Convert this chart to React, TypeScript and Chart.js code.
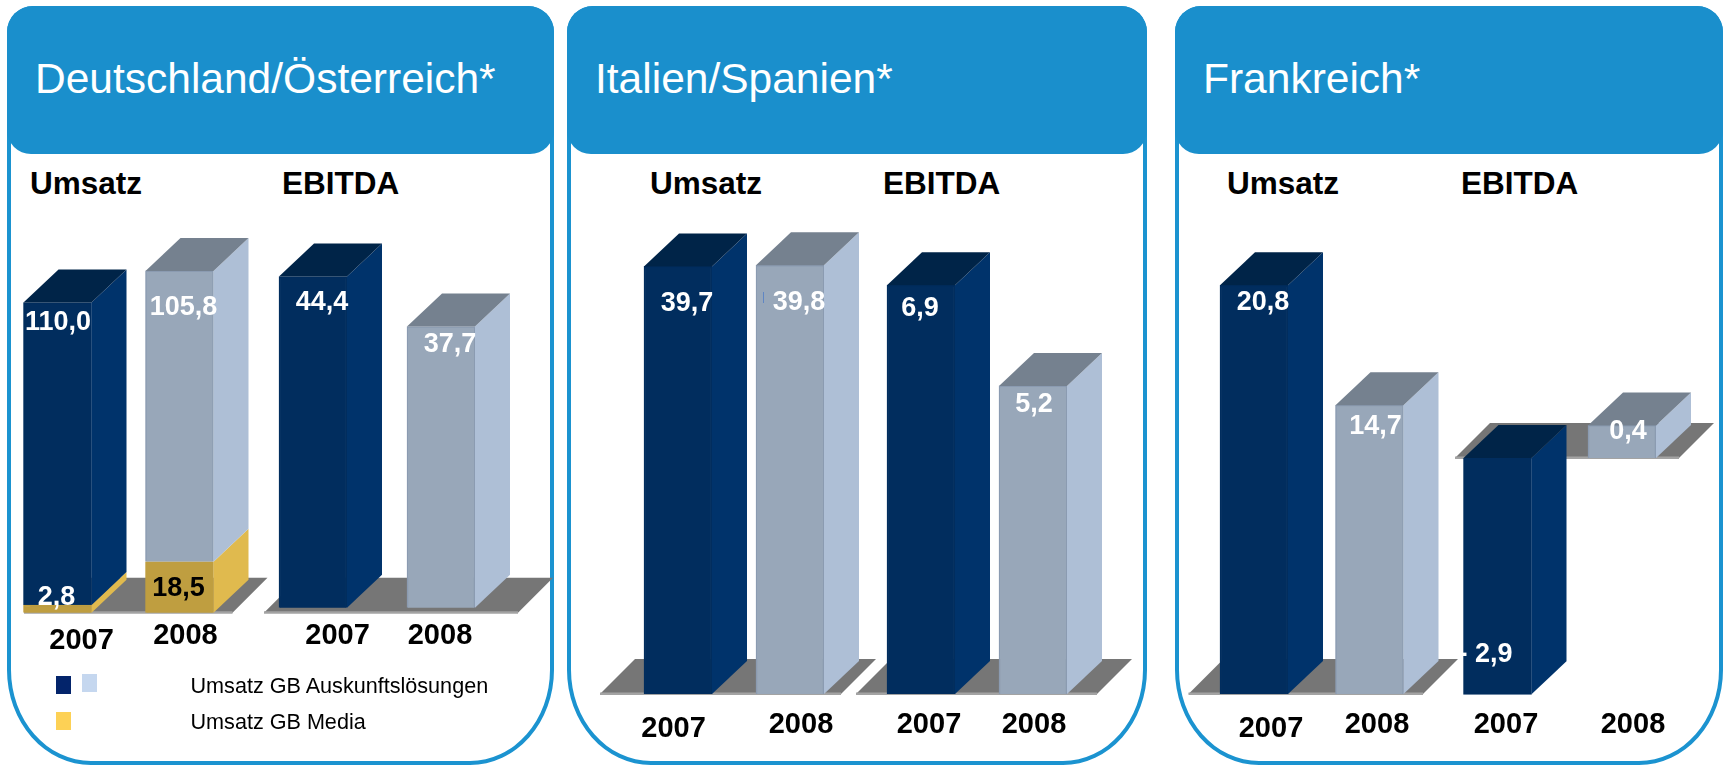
import React, { useEffect, useRef } from "react";
import { Chart, registerables } from "chart.js";

Chart.register(...registerables);

const W = 1730;
const H = 765;
const BLEED = 40; // canvases start left of the page so the first band may overhang
const FONT = '"Liberation Sans", Arial, sans-serif';

// ---- data ----
const years = ["2007", "2008"];
const panelTitles = ["Deutschland/Österreich*", "Italien/Spanien*", "Frankreich*"];
const groupTitles = ["Umsatz", "EBITDA"];
const deAtMedia = [2.8, 18.5];
const deAtAuskunft = [110.0, 105.8];
const deAtEbitda = [44.4, 37.7];
const itEsUmsatz = [39.7, 39.8];
const itEsEbitda = [6.9, 5.2];
const frUmsatz = [20.8, 14.7];
const frEbitda = [-2.9, 0.4];
const legendLabels = ["Umsatz GB Auskunftslösungen", "Umsatz GB Media"];

// ---- colours ----
const NAVY = { front: "#012d5e", side: "#00336b", top: "#002448", edge: "#012d5e" };
const LIGHT = { front: "#98a7b9", side: "#aebfd6", top: "#75818f", edge: "#8b9bb1" };
const GOLD = { front: "#bf9e40", side: "#e0ba4e", top: "#bf9e40", edge: "#bf9e40" };
const LINE = "#1b93d0";
const HEAD = "#1a8fcc";
const DX = 35;
const DY = 33;
const BAR_W = 68;

type Series = { values: number[]; skins: (typeof NAVY)[]; colors: string[]; offs: number[][] };
type Group = {
  centers: number[];
  baseline: number;
  unit: number;
  series: Series[];
  yearOffs: number[][];
  plate: number[]; // left x offset from first bar, right x offset from last bar, drop below baseline
};

const groups: Group[] = [
  {
    centers: [57.5, 179.5],
    baseline: 612.7,
    unit: 2.75,
    series: [
      { values: deAtMedia, skins: [GOLD, GOLD], colors: ["#ffffff", "#000000"], offs: [[-1, -7], [-1, 27]] },
      { values: deAtAuskunft, skins: [NAVY, LIGHT], colors: ["#ffffff", "#ffffff"], offs: [[0.5, 20], [4, 37]] },
    ],
    yearOffs: [[24.1, 28], [5.9, 23]],
    plate: [-33.5, 53, 0],
  },
  {
    centers: [313, 441],
    baseline: 607.7,
    unit: 7.46,
    series: [{ values: deAtEbitda, skins: [NAVY, LIGHT], colors: ["#ffffff", "#ffffff"], offs: [[9, 26], [9, 18]] }],
    yearOffs: [[24.6, 28], [-1, 28]],
    plate: [-49, 77, 5],
  },
  {
    centers: [678, 790],
    baseline: 694,
    unit: 10.77,
    series: [{ values: itEsUmsatz, skins: [NAVY, LIGHT], colors: ["#ffffff", "#ffffff"], offs: [[9, 37], [9, 37]] }],
    yearOffs: [[-4.4, 35], [11, 31]],
    plate: [-78, 51, 0],
  },
  {
    centers: [921, 1033],
    baseline: 694,
    unit: 59.25,
    series: [{ values: itEsEbitda, skins: [NAVY, LIGHT], colors: ["#ffffff", "#ffffff"], offs: [[-1, 23], [1, 19]] }],
    yearOffs: [[8, 31], [1, 31]],
    plate: [-65, 64, 0],
  },
  {
    centers: [1254, 1369.5],
    baseline: 694,
    unit: 19.65,
    series: [{ values: frUmsatz, skins: [NAVY, LIGHT], colors: ["#ffffff", "#ffffff"], offs: [[9, 17], [6, 21]] }],
    yearOffs: [[17, 35], [7.5, 31]],
    plate: [-65.5, 53.5, 0],
  },
  {
    centers: [1497.5, 1622],
    baseline: 458,
    unit: 81.5,
    series: [{ values: frEbitda, skins: [NAVY, LIGHT], colors: ["#ffffff", "#ffffff"], offs: [[-12, 197], [6, 6]] }],
    yearOffs: [[8.5, 267], [11, 267]],
    plate: [-42.5, 57, 0],
  },
];

const panels = [
  { left: 6.7, right: 554.5, titleX: 35, heads: [30, 282], headY: 183 },
  { left: 566.7, right: 1146.7, titleX: 595, heads: [650, 883], headY: 183 },
  { left: 1174.7, right: 1723, titleX: 1203, heads: [1227, 1461], headY: 183 },
];

const fmt = (v: number) => (v < 0 ? "- " : "") + Math.abs(v).toFixed(1).replace(".", ",");

const poly = (ctx: CanvasRenderingContext2D, pts: number[][], fill: string) => {
  ctx.beginPath();
  pts.forEach(([x, y], i) => (i ? ctx.lineTo(x, y) : ctx.moveTo(x, y)));
  ctx.closePath();
  ctx.fillStyle = fill;
  ctx.fill();
};

const threeD = (g: Group) => ({
  id: "threeD",
  beforeDatasetsDraw(chart: any) {
    const ctx = chart.ctx;
    const x = chart.scales.x;
    const y0 = chart.scales.y.getPixelForValue(0) + g.plate[2];
    const l = x.getPixelForValue(0) + g.plate[0];
    const r = x.getPixelForValue(1) + g.plate[1];
    ctx.save();
    poly(ctx, [[l, y0], [l + DX, y0 - DY - 2], [r + DX, y0 - DY - 2], [r, y0]], "#767676");
    poly(ctx, [[l, y0 - 1.5], [r, y0 - 1.5], [r, y0 + 1], [l, y0 + 1]], "#a3a3a3");
    ctx.restore();
  },
  afterDatasetsDraw(chart: any) {
    const ctx = chart.ctx;
    ctx.save();
    const last = g.series.length - 1;
    g.series.forEach((s, si) => {
      chart.getDatasetMeta(si).data.forEach((el: any, i: number) => {
        const left = el.x - BAR_W / 2;
        const right = el.x + BAR_W / 2;
        const top = Math.min(el.y, el.base);
        const bot = Math.max(el.y, el.base);
        const skin = s.skins[i];
        poly(ctx, [[right, top], [right + DX, top - DY], [right + DX, bot - DY], [right, bot]], skin.side);
        if (si === last) {
          poly(ctx, [[left, top], [left + DX, top - DY], [right + DX, top - DY], [right, top]], skin.top);
        }
      });
    });
    ctx.restore();
  },
  afterDraw(chart: any) {
    const ctx = chart.ctx;
    const x = chart.scales.x;
    const y0 = chart.scales.y.getPixelForValue(0);
    ctx.save();
    ctx.textAlign = "center";
    ctx.textBaseline = "middle";
    ctx.font = `bold 27px ${FONT}`;
    g.series.forEach((s, si) => {
      chart.getDatasetMeta(si).data.forEach((el: any, i: number) => {
        const top = Math.min(el.y, el.base);
        ctx.fillStyle = s.colors[i];
        ctx.fillText(fmt(s.values[i]), el.x + s.offs[i][0], top + s.offs[i][1]);
      });
    });
    ctx.font = `bold 29px ${FONT}`;
    ctx.fillStyle = "#000000";
    x.getLabels().forEach((label: string, i: number) => {
      ctx.fillText(label, x.getPixelForValue(i) + g.yearOffs[i][0], y0 + g.yearOffs[i][1]);
    });
    ctx.restore();
  },
});

function GroupChart({ g }: { g: Group }) {
  const ref = useRef<HTMLCanvasElement | null>(null);
  useEffect(() => {
    const d = g.centers[1] - g.centers[0];
    const padTop = 20;
    const padBottom = 10;
    const chart = new Chart(ref.current as HTMLCanvasElement, {
      type: "bar",
      data: {
        labels: years,
        datasets: g.series.map((s) => ({
          data: s.values,
          backgroundColor: s.skins.map((k) => k.front),
          borderColor: s.skins.map((k) => k.edge),
          borderWidth: 1.5,
          barThickness: BAR_W,
        })),
      },
      options: {
        responsive: false,
        animation: false,
        devicePixelRatio: 1,
        layout: {
          padding: {
            left: BLEED + g.centers[0] - d / 2,
            right: W - (g.centers[1] + d / 2),
            top: padTop,
            bottom: padBottom,
          },
        },
        plugins: { legend: { display: false }, tooltip: { enabled: false } },
        scales: {
          x: { stacked: true, display: false, grid: { display: false } },
          y: {
            stacked: true,
            display: false,
            min: -(H - padBottom - g.baseline) / g.unit,
            max: (g.baseline - padTop) / g.unit,
            grid: { display: false },
          },
        },
      },
      plugins: [threeD(g)],
    } as any);
    return () => chart.destroy();
  }, [g]);
  return (
    <canvas
      ref={ref}
      width={W + BLEED}
      height={H}
      style={{ position: "absolute", left: -BLEED, top: 0, width: W + BLEED, height: H }}
    />
  );
}

const abs = (o: React.CSSProperties): React.CSSProperties => ({ position: "absolute", ...o });

export default function App() {
  return (
    <div style={abs({ left: 0, top: 0, width: W, height: H, overflow: "hidden", background: "#fff", fontFamily: FONT })}>
      {panels.map((p, i) => (
        <React.Fragment key={i}>
          <div
            style={abs({
              left: p.left,
              top: 6,
              width: p.right - p.left,
              height: H - 6,
              boxSizing: "border-box",
              border: `4px solid ${LINE}`,
              borderRadius: "26px 26px 84px 84px / 26px 26px 95px 95px",
            })}
          />
          <div
            style={abs({
              left: p.left,
              top: 6,
              width: p.right - p.left,
              height: 148,
              background: HEAD,
              borderRadius: "26px 26px 24px 24px",
            })}
          />
          <div
            style={abs({
              left: p.titleX,
              top: 53,
              lineHeight: "52px",
              fontSize: 42.5,
              color: "#fff",
              whiteSpace: "nowrap",
            })}
          >
            {panelTitles[i]}
          </div>
          {groupTitles.map((t, j) => (
            <div
              key={t}
              style={abs({
                left: p.heads[j],
                top: p.headY - 20,
                lineHeight: "40px",
                fontSize: 31.5,
                fontWeight: 700,
                color: "#000",
                whiteSpace: "nowrap",
              })}
            >
              {t}
            </div>
          ))}
        </React.Fragment>
      ))}
      {groups.map((g, i) => (
        <GroupChart key={i} g={g} />
      ))}
      <div style={abs({ left: 763, top: 292, width: 1, height: 11, background: "#5f86c4" })} />
      <div style={abs({ left: 56, top: 676, width: 15, height: 18, background: "#03246b" })} />
      <div style={abs({ left: 82, top: 674, width: 15, height: 18, background: "#c5d7ef" })} />
      <div style={abs({ left: 56, top: 712, width: 15, height: 18, background: "#fdd155" })} />
      {legendLabels.map((t, i) => (
        <div
          key={t}
          style={abs({
            left: 190.5,
            top: i === 0 ? 674 : 710,
            lineHeight: "24px",
            fontSize: 21.6,
            color: "#000",
            whiteSpace: "nowrap",
          })}
        >
          {t}
        </div>
      ))}
    </div>
  );
}
